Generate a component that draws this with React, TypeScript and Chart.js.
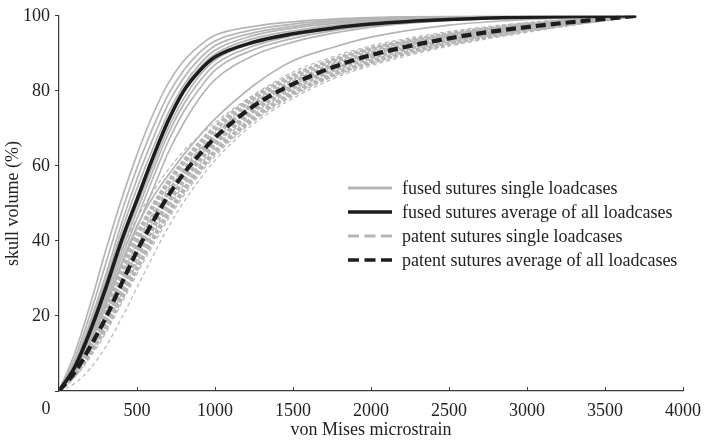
import React, { useEffect, useRef } from 'react';
import { Chart, registerables } from 'chart.js';

Chart.register(...registerables);

// x positions (von Mises microstrain) at which curves were read
const strain = [0, 100, 200, 300, 400, 500, 600, 700, 800, 900, 1000, 1250, 1500, 1750, 2000, 2500, 3000, 3700];

// averages
const fusedAverage = [0, 6.3, 16, 27.5, 40, 51, 62, 72, 80, 85.3, 89, 93, 95.2, 96.7, 97.8, 99, 99.6, 100];
const patentAverage = [0, 4.9, 11.8, 19.5, 28.5, 37.3, 45, 52, 58, 63, 67.5, 76, 81.8, 86.2, 89.5, 94, 97, 100];

// fused sutures, single loadcases
const fused1 = [0, 10, 23, 37.5, 51, 63, 73.5, 82, 88, 92, 94.8, 97.2, 98.4, 99.1, 99.5, 99.9, 100, 100];
const fused2 = [0, 8.5, 20.5, 34, 47.5, 59.5, 70, 79, 85.5, 90.2, 93.3, 96.3, 97.8, 98.7, 99.3, 99.8, 100, 100];
const fused3 = [0, 7.5, 18.5, 31, 44.5, 56.5, 67, 76.5, 83.5, 88.5, 92, 95.5, 97.2, 98.3, 99, 99.7, 99.9, 100];
const fused4 = [0, 7, 17.5, 29.5, 42.5, 54, 64.5, 74, 81.5, 87, 90.8, 94.8, 96.7, 97.9, 98.7, 99.6, 99.9, 100];
const fused5 = [0, 6.3, 16, 27.5, 40.5, 51.5, 62.5, 72.5, 80.5, 86, 89.8, 94, 96, 97.4, 98.4, 99.4, 99.8, 100];
const fused6 = [0, 6, 15.2, 26, 38.5, 49.5, 60, 70, 78, 84, 88.2, 92.8, 95.2, 96.8, 98, 99.2, 99.7, 100];
const fused7 = [0, 5.6, 14.5, 25, 37, 48, 58.5, 68.5, 76.5, 82.5, 87, 92, 94.7, 96.4, 97.7, 99.1, 99.7, 100];
const fused8 = [0, 5.3, 14, 24, 35.5, 46, 56.5, 66.5, 74.5, 80.5, 85.5, 91, 94, 96, 97.4, 99, 99.6, 100];
const fused9 = [0, 5, 13, 22.5, 33.5, 43.5, 53.5, 63.5, 71.5, 78, 83, 89.5, 93, 95.3, 97, 98.8, 99.5, 100];
const fused10 = [0, 5, 13, 23, 34, 44, 51.5, 57.5, 63, 68, 72.5, 81.5, 88, 91.5, 94.3, 97.5, 99, 100];

// patent sutures, single loadcases
const patent1 = [0, 6.3, 16, 27, 37.5, 46, 53, 59, 64, 68, 71.5, 79, 85, 89, 92, 95.8, 98.2, 100];
const patent2 = [0, 5.5, 13.5, 22, 31.5, 40.5, 48.5, 55, 60.5, 65.3, 69.5, 77.8, 83.5, 87.8, 91, 95, 97.7, 100];
const patent3 = [0, 5.3, 13, 21, 30.5, 39.5, 47.3, 54, 59.5, 64.5, 68.8, 77.2, 83, 87.3, 90.6, 94.8, 97.6, 100];
const patent4 = [0, 5.1, 12.5, 20.5, 29.8, 38.7, 46.5, 53.2, 58.8, 63.8, 68.2, 76.7, 82.5, 86.9, 90.2, 94.6, 97.4, 100];
const patent5 = [0, 5, 12, 20, 29.2, 38, 45.7, 52.5, 58.2, 63.2, 67.7, 76.3, 82.1, 86.5, 89.9, 94.3, 97.2, 100];
const patent6 = [0, 4.8, 11.5, 19.2, 28.3, 37, 44.8, 51.6, 57.4, 62.5, 67, 75.7, 81.6, 86.1, 89.5, 94, 97, 100];
const patent7 = [0, 4.6, 11, 18.6, 27.5, 36.1, 43.8, 50.7, 56.6, 61.8, 66.3, 75.1, 81.1, 85.7, 89.1, 93.7, 96.8, 100];
const patent8 = [0, 4.5, 10.7, 18, 26.6, 35.1, 42.8, 49.8, 55.8, 61, 65.6, 74.5, 80.6, 85.3, 88.7, 93.4, 96.6, 100];
const patent9 = [0, 4.3, 10.4, 17.4, 25.8, 34.1, 41.8, 48.8, 54.9, 60.2, 64.9, 73.9, 80.1, 84.9, 88.3, 93.1, 96.4, 100];
const patent10 = [0, 4.2, 10.1, 16.9, 25, 33.2, 40.8, 47.8, 54, 59.4, 64.1, 73.2, 79.6, 84.4, 87.9, 92.8, 96.2, 100];
const patent11 = [0, 4, 9.8, 16.4, 24.3, 32.3, 39.9, 46.9, 53.1, 58.6, 63.4, 72.6, 79.1, 84, 87.5, 92.5, 96, 100];
const patent12 = [0, 3.6, 9, 15.5, 23.3, 31.2, 38.7, 45.8, 52.1, 57.7, 62.6, 72, 78.6, 83.6, 87.1, 92.2, 95.8, 100];
const patent13 = [0, 2, 6, 11.8, 19.3, 27.6, 35.8, 43.6, 50.4, 56.3, 61.5, 71.3, 78, 83.1, 86.7, 91.9, 95.6, 100];
const patent14 = [0, 5.8, 14.5, 23.5, 33, 42, 49.5, 56, 61.5, 66.3, 70.5, 78.5, 84.2, 88.3, 91.4, 95.3, 97.9, 100];

const fusedSingles = [fused1, fused2, fused3, fused4, fused5, fused6, fused7, fused8, fused9, fused10];
const patentSingles = [
  patent1, patent2, patent3, patent4, patent5, patent6, patent7,
  patent8, patent9, patent10, patent11, patent12, patent13, patent14,
];
// which patent single lines are drawn with the heavier dash
const patentHeavy = [false, true, false, true, true, false, true, true, false, true, true, false, false, true];

const xTicks = [0, 500, 1000, 1500, 2000, 2500, 3000, 3500, 4000];
const yTicks = [0, 20, 40, 60, 80, 100];
const originLabel = '0';

const legendLabels = [
  'fused sutures single loadcases',
  'fused sutures average of all loadcases',
  'patent sutures single loadcases',
  'patent sutures average of all loadcases',
];

const GREY = '#b5b5b5';
const BLACK = '#1d1d1d';
const AXIS = '#3a3a3a';
const TEXT = '#222222';
const FONT = "'Liberation Serif', 'Times New Roman', serif";

const toPoints = (arr: number[]) => strain.map((x, i) => ({ x, y: arr[i] }));

const legendPlugin = {
  id: 'customLegend',
  afterDraw(chart: any) {
    const { ctx } = chart;
    const xs = chart.scales.x;
    const { bottom, left } = chart.chartArea;
    ctx.save();
    // inward x tick marks
    ctx.strokeStyle = AXIS;
    ctx.lineWidth = 1;
    xTicks.forEach((t) => {
      const px = Math.round(xs.getPixelForValue(t)) + 0.5;
      ctx.beginPath();
      ctx.moveTo(px, bottom);
      ctx.lineTo(px, bottom - 4);
      ctx.stroke();
    });
    // shared origin label, set left of the corner
    ctx.fillStyle = TEXT;
    ctx.font = `18px ${FONT}`;
    ctx.textAlign = 'center';
    ctx.textBaseline = 'top';
    ctx.fillText(originLabel, left - 13, bottom + 9);
    ctx.restore();

    // legend
    const styles = [
      { color: GREY, width: 3, dash: [] as number[] },
      { color: BLACK, width: 3.5, dash: [] as number[] },
      { color: GREY, width: 3, dash: [11, 5.5] },
      { color: BLACK, width: 3.5, dash: [11, 5.5] },
    ];
    const x0 = 348;
    const x1 = 392;
    const textX = 402;
    const rowY = [188, 212, 236, 260];
    ctx.save();
    legendLabels.forEach((label, i) => {
      const s = styles[i];
      ctx.beginPath();
      ctx.setLineDash(s.dash);
      ctx.strokeStyle = s.color;
      ctx.lineWidth = s.width;
      ctx.moveTo(x0, rowY[i]);
      ctx.lineTo(x1, rowY[i]);
      ctx.stroke();
      ctx.setLineDash([]);
      ctx.fillStyle = TEXT;
      ctx.font = `18px ${FONT}`;
      ctx.textBaseline = 'middle';
      ctx.textAlign = 'left';
      ctx.fillText(label, textX, rowY[i] + 1);
    });
    ctx.restore();
  },
};

export default function App() {
  const canvasRef = useRef<HTMLCanvasElement | null>(null);

  useEffect(() => {
    const canvas = canvasRef.current;
    if (!canvas) return;

    const datasets: any[] = [];
    datasets.push({
      label: legendLabels[3],
      data: toPoints(patentAverage),
      borderColor: BLACK,
      borderWidth: 4.2,
      borderDash: [10, 5],
      order: 0,
    });
    datasets.push({
      label: legendLabels[1],
      data: toPoints(fusedAverage),
      borderColor: BLACK,
      borderWidth: 3.6,
      order: 1,
    });
    fusedSingles.forEach((arr, i) => {
      datasets.push({
        label: `${legendLabels[0]} ${i + 1}`,
        data: toPoints(arr),
        borderColor: GREY,
        borderWidth: 1.7,
        order: 3,
      });
    });
    patentSingles.forEach((arr, i) => {
      const heavy = patentHeavy[i];
      datasets.push({
        label: `${legendLabels[2]} ${i + 1}`,
        data: toPoints(arr),
        borderColor: GREY,
        borderWidth: heavy ? 2.8 : 1.2,
        borderDash: heavy ? [4, 2] : [4, 3],
        order: 2,
      });
    });

    const chart = new Chart(canvas, {
      type: 'line',
      data: { datasets },
      options: {
        responsive: false,
        animation: false,
        layout: { padding: { top: 11, right: 19, left: 0, bottom: 0 } },
        elements: {
          point: { radius: 0, hoverRadius: 0 },
          line: { cubicInterpolationMode: 'monotone', fill: false, borderCapStyle: 'butt' },
        },
        plugins: {
          legend: { display: false },
          tooltip: { enabled: false },
          title: { display: false },
        },
        scales: {
          x: {
            type: 'linear',
            min: 0,
            max: 4000,
            afterFit(scale: any) {
              scale.height = 51;
            },
            afterBuildTicks(scale: any) {
              scale.ticks = xTicks.map((v) => ({ value: v }));
            },
            grid: { display: false, drawTicks: false },
            border: { display: true, color: AXIS, width: 1.2 },
            ticks: {
              padding: 9,
              color: TEXT,
              font: { family: FONT, size: 18 },
              maxRotation: 0,
              autoSkip: false,
              callback: (v: any) => (v === 0 ? '' : String(v)),
            },
            title: {
              display: true,
              text: 'von Mises microstrain',
              color: TEXT,
              font: { family: FONT, size: 18 },
              padding: { top: 0, bottom: 1 },
            },
          },
          y: {
            type: 'linear',
            min: 0,
            max: 100,
            afterFit(scale: any) {
              scale.width = 59;
            },
            afterBuildTicks(scale: any) {
              scale.ticks = yTicks.map((v) => ({ value: v }));
            },
            grid: {
              display: true,
              drawOnChartArea: false,
              drawTicks: true,
              tickLength: 4,
              color: AXIS,
              lineWidth: 1,
            },
            border: { display: true, color: AXIS, width: 1.2 },
            ticks: {
              padding: 5,
              color: TEXT,
              font: { family: FONT, size: 18 },
              autoSkip: false,
              callback: (v: any) => (v === 0 ? '' : String(v)),
            },
            title: {
              display: true,
              text: 'skull volume (%)',
              color: TEXT,
              font: { family: FONT, size: 18 },
              padding: { top: 2, bottom: 0 },
            },
          },
        },
      } as any,
      plugins: [legendPlugin],
    });

    return () => {
      chart.destroy();
    };
  }, []);

  return (
    <div style={{ position: 'fixed', left: 0, top: 0, width: 710, height: 442, background: '#ffffff' }}>
      <canvas ref={canvasRef} width={710} height={442} style={{ display: 'block', width: 710, height: 442 }} />
    </div>
  );
}
